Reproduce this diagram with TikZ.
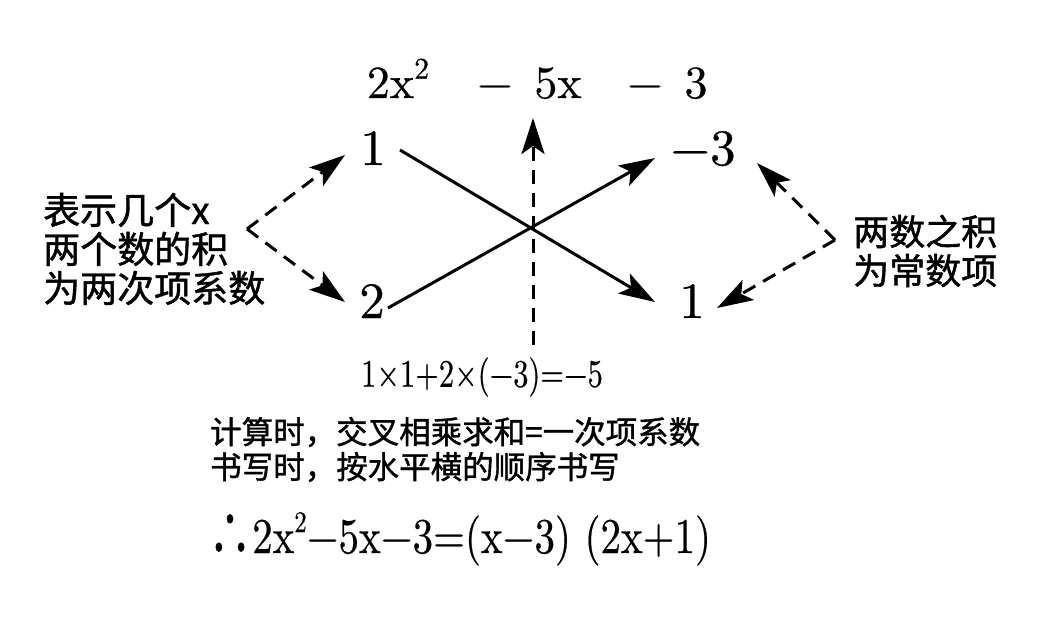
\documentclass[tikz,border=0pt]{standalone}
\usepackage{fontspec}
\usepackage{graphicx}
\setmainfont{lmroman10-regular.otf}[FakeBold=0.5]
\newfontfamily\cjk{Noto Sans CJK SC}[FakeBold=1.2]
\usetikzlibrary{arrows.meta}
\newcommand{\supx}[1]{\raisebox{0.42em}{\fontsize{30}{30}\selectfont #1}}
\begin{document}
\begin{tikzpicture}[x=1pt,y=1pt,
  big/.style={inner sep=0pt, font=\fontsize{46}{50}\selectfont, anchor=base},
  num/.style={inner sep=0pt, font=\fontsize{51}{55}\selectfont, anchor=base},
  arr/.style={line width=3pt, -{Stealth[length=36pt,width=23pt,inset=8pt]}},
  dasharr/.style={arr, dash pattern=on 14pt off 9pt},
  cjkleft/.style={inner sep=0pt, anchor=west, align=left, font=\cjk\fontsize{37}{39}\selectfont},
  cjkright/.style={inner sep=0pt, anchor=west, align=left, font=\cjk\fontsize{36}{39}\selectfont},
  cjkline/.style={inner sep=0pt, anchor=west, font=\cjk\fontsize{31.5}{35}\selectfont},
]
\useasboundingbox (0,0) rectangle (1043,619);
% top line
\node[big] (t2x) at (398,521) {2x\supx{2}};
\node[big] (m1) at (495,521) {−};
\node[big] (t5x) at (558,521) {5x};
\node[big] (m2) at (645,521) {−};
\node[big] (t3) at (696,521) {3};
% cross numbers
\node[num] (a1) at (373,454) {1};
\node[num] (c3) at (703,454) {−3};
\node[num] (a2) at (372,301) {2};
\node[num] (b1) at (692,301) {1};
% cross lines
\draw[arr] ([shift={(27pt,15pt)}]a1.base) -- ([shift={(-37pt,16pt)}]b1.base);
\draw[arr] ([shift={(16pt,10pt)}]a2.base) -- ([shift={(-48pt,7pt)}]c3.base);
% vertical dashed
\coordinate (vbot) at (533,274);
\draw[dasharr] (vbot) -- ([shift={(-25pt,-20pt)}]t5x.base);
% left labels
\node[cjkleft] (lt) at (43,370) {表示几个x\\两个数的积\\为两次项系数};
\coordinate (lv) at (247,390);
\draw[dasharr] (lv) -- ([shift={(-28pt,10pt)}]a1.base);
\draw[dasharr] (lv) -- ([shift={(-27pt,16pt)}]a2.base);
% right labels
\node[cjkright] (rt) at (853,368) {两数之积\\为常数项};
\coordinate (rv) at (835,379);
\draw[dasharr] (rv) -- ([shift={(54pt,2pt)}]c3.base);
\draw[dasharr] (rv) -- ([shift={(25pt,10pt)}]b1.base);
% bottom texts
\node[inner sep=0pt, font=\fontsize{39}{42}\selectfont] (calc) at (482,242)
  {\scalebox{0.78}[1]{1×1+2×(−3)=−5}};
\node[cjkline] (l1) at (210,187) {计算时，交叉相乘求和=一次项系数};
\node[cjkline] (l2) at (210,152) {书写时，按水平横的顺序书写};
\node[inner sep=0pt, font=\cjk\fontsize{60}{60}\selectfont] (ther) at (230,84) {\scalebox{0.7}[1]{∴}};
\node[inner sep=0pt, anchor=base west, font=\fontsize{50}{54}\selectfont] (eq) at (252,66)
  {\scalebox{0.82}[1]{2x\supx{2}−5x−3=(x−3) (2x+1)}};
\end{tikzpicture}
\end{document}
